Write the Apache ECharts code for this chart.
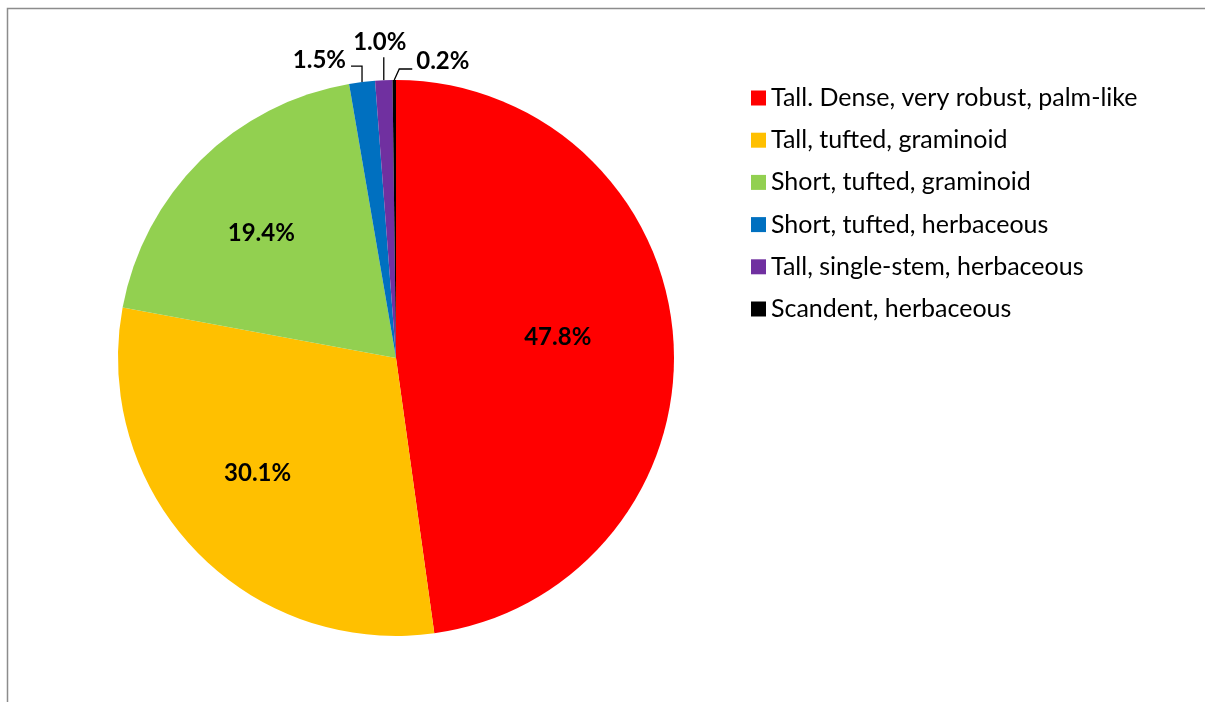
<!DOCTYPE html>
<html>
<head>
<meta charset="utf-8">
<script src="https://cdn.jsdelivr.net/npm/echarts@6/dist/echarts.min.js"></script>
<style>
  html, body { margin: 0; padding: 0; background: #fff; }
  #chart { width: 1205px; height: 702px; }
</style>
</head>
<body>
<div id="chart"></div>
<script>
// Growth-form categories and their share of the total (%)
const categories = [
  'Tall. Dense, very robust, palm-like',
  'Tall, tufted, graminoid',
  'Short, tufted, graminoid',
  'Short, tufted, herbaceous',
  'Tall, single-stem, herbaceous',
  'Scandent, herbaceous'
];
const shares = [47.8, 30.1, 19.4, 1.5, 1.0, 0.2];
const sliceColors = ['#FF0000', '#FFC000', '#92D050', '#0070C0', '#7030A0', '#000000'];

const CENTER = [396, 358];
const RADIUS = 278;
const FONT = 'Lato, "Open Sans", sans-serif';

// in-slice labels: radial push-out factor and a small nudge (px)
const insideFraction = [0.585, 0.65, 0.66];
const insideNudge = [[-4, -9], [-5, -12], [-3, 9]];

const chart = echarts.init(document.getElementById('chart'), null, { renderer: 'canvas' });

const data = categories.map((name, i) => {
  const inside = i < 3;
  return {
    name: name,
    value: shares[i],
    itemStyle: { color: sliceColors[i] },
    label: { position: inside ? 'inside' : 'outside' },
    labelLine: { show: !inside }
  };
});

chart.setOption({
  animation: false,
  backgroundColor: '#ffffff',
  graphic: [{
    type: 'polyline',
    silent: true,
    shape: { points: [[7.5, 702], [7.5, 8.5], [1205, 8.5]] },
    style: { stroke: '#8c8c8c', lineWidth: 1.5, fill: null }
  }],
  legend: {
    orient: 'vertical',
    left: 746,
    top: 80.5,
    itemWidth: 15,
    itemHeight: 15,
    itemGap: 17.2,
    icon: 'rect',
    textStyle: { fontFamily: FONT, fontSize: 25, color: '#000', lineHeight: 25, padding: [0, 0, 0, 0] },
    data: categories
  },
  series: [{
    type: 'pie',
    center: CENTER,
    radius: RADIUS,
    startAngle: 90,
    clockwise: true,
    avoidLabelOverlap: false,
    silent: true,
    data: data,
    label: {
      show: true,
      formatter: p => p.value.toFixed(1) + '%',
      fontFamily: FONT,
      fontWeight: 'bold',
      fontSize: 24,
      color: '#000'
    },
    labelLine: { show: true, length: 20, length2: 10, lineStyle: { color: '#000', width: 1.3 } },
    labelLayout: function (p) {
      const i = p.dataIndex;
      const r = p.labelRect;
      if (i < 3) {
        const lx = r.x + r.width / 2, ly = r.y + r.height / 2;
        const k = 2 * insideFraction[i];
        return {
          x: CENTER[0] + (lx - CENTER[0]) * k + insideNudge[i][0],
          y: CENTER[1] + (ly - CENTER[1]) * k + insideNudge[i][1],
          align: 'center',
          verticalAlign: 'middle'
        };
      }
      const p0 = p.labelLinePoints[0];
      if (i === 3) {
        const p1 = [p0[0], p0[1] - 16];
        const p2 = [p0[0] - 11, p0[1] - 16];
        return { x: p2[0] - 5, y: p2[1] - 6, align: 'right', verticalAlign: 'middle', labelLinePoints: [p0, p1, p2] };
      }
      if (i === 4) {
        const p1 = [p0[0], p0[1] - 23];
        return { x: p0[0] - 4, y: p1[1] - 15, align: 'center', verticalAlign: 'middle', labelLinePoints: [p0, p1, p1] };
      }
      const p1 = [p0[0] + 5, p0[1] - 11];
      const p2 = [p0[0] + 18, p0[1] - 11];
      return { x: p2[0] + 4, y: p1[1] - 8, align: 'left', verticalAlign: 'middle', labelLinePoints: [p0, p1, p2] };
    }
  }]
});
</script>
</body>
</html>
